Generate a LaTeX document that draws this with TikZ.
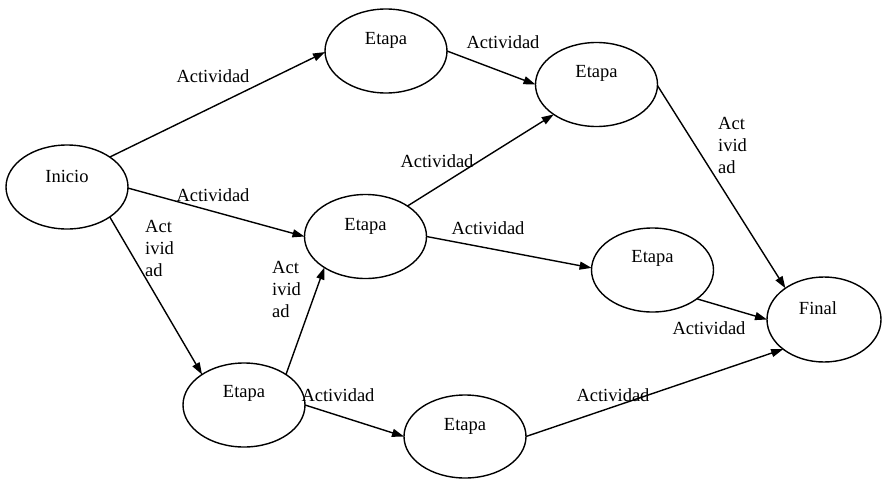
\documentclass[tikz,border=0pt]{standalone}
\usepackage{fontspec}
\setmainfont{Liberation Serif}
\usetikzlibrary{shapes.geometric,arrows.meta}
\begin{document}
\begin{tikzpicture}[x=1pt,y=-1pt,
  every node/.style={font=\fontsize{18.5}{22}\selectfont},
  stage/.style={draw,ellipse,line width=1.4pt,inner sep=0pt,outer sep=0pt,
    minimum width=122pt,minimum height=84pt},
  act/.style={inner sep=0pt},
  flow/.style={line width=1.4pt,-{Triangle[length=12pt,width=8pt]}}]
\useasboundingbox (0,0) rectangle (883,479);

% stages
\node[stage,label={[yshift=11pt]center:Inicio}] (ini) at (67,187) {};
\node[stage,label={[yshift=11pt]center:Etapa}] (e1) at (386,51) {};
\node[stage,label={[yshift=11pt]center:Etapa}] (e2) at (596.5,84.5) {};
\node[stage,label={[yshift=10pt]center:Etapa}] (e3) at (365.5,236.5) {};
\node[stage,label={[yshift=12pt]center:Etapa}] (e4) at (652.5,270) {};
\node[stage,minimum width=114pt,minimum height=85pt,
  label={[yshift=11pt,xshift=-6pt]center:Final}] (fin) at (824,319.5) {};
\node[stage,label={[yshift=12pt]center:Etapa}] (e5) at (244,405) {};
\node[stage,minimum height=83pt,label={[yshift=10pt]center:Etapa}] (e6) at (465,436.5) {};

% activities
\draw[flow] (ini.35) -- (e1.181);
\draw[flow] (ini.-1) -- (e3.180);
\draw[flow] (ini.-35) -- (e5.144);
\draw[flow] (e1.0) -- (e2.180);
\draw[flow] (e3.36.5) -- (e2.215);
\draw[flow] (e3.0) -- (e4.178);
\draw[flow] (e2.-1.4) -- (fin.141);
\draw[flow] (e4.-33) -- (fin.180);
\draw[flow] (e6.0) -- (fin.216);
\draw[flow] (e5.36.7) -- (e3.217);
\draw[flow] (e5.0) -- (e6.180);

% activity labels
\node[act] (a1) at (213,76) {Actividad};
\node[act] (a2) at (213,195) {Actividad};
\node[act,anchor=west,align=left] (a3) at (145,248) {Act\\ivid\\ad};
\node[act] (a4) at (503,42) {Actividad};
\node[act] (a5) at (437,161) {Actividad};
\node[act] (a6) at (488,228) {Actividad};
\node[act,anchor=west,align=left] (a7) at (718,145.5) {Act\\ivid\\ad};
\node[act,anchor=west,align=left] (a8) at (272,289.5) {Act\\ivid\\ad};
\node[act] (a9) at (338,395) {Actividad};
\node[act] (a10) at (709,328) {Actividad};
\node[act] (a11) at (613,395) {Actividad};
\end{tikzpicture}
\end{document}
